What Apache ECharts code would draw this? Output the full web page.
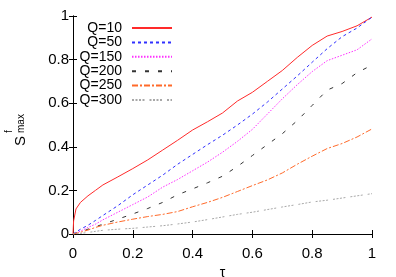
<!DOCTYPE html>
<html>
<head>
<meta charset="utf-8">
<script src="https://cdn.jsdelivr.net/npm/echarts@6/dist/echarts.min.js"></script>
<style>
html,body{margin:0;padding:0;background:#fff;}
#chart{width:396px;height:277px;}
</style>
</head>
<body>
<div id="chart"></div>
<script>
var tau = [0, 0.002, 0.01, 0.025, 0.05, 0.075, 0.1, 0.15, 0.2, 0.25, 0.3, 0.35, 0.4, 0.45, 0.5, 0.55, 0.6, 0.65, 0.7, 0.75, 0.8, 0.85, 0.9, 0.95, 1.0];
var q10  = [0, 0.06, 0.115, 0.145, 0.175, 0.20, 0.225, 0.262, 0.30, 0.34, 0.385, 0.43, 0.477, 0.515, 0.555, 0.61, 0.65, 0.70, 0.75, 0.81, 0.865, 0.908, 0.929, 0.955, 0.995];
var q50  = [0, 0.002, 0.009, 0.022, 0.04, 0.062, 0.085, 0.13, 0.18, 0.225, 0.27, 0.32, 0.365, 0.41, 0.453, 0.50, 0.55, 0.605, 0.665, 0.725, 0.788, 0.85, 0.905, 0.945, 0.995];
var q150 = [0, 0.001, 0.005, 0.013, 0.03, 0.045, 0.065, 0.10, 0.135, 0.17, 0.215, 0.25, 0.29, 0.33, 0.375, 0.425, 0.48, 0.55, 0.62, 0.685, 0.745, 0.795, 0.82, 0.845, 0.895];
var q200 = [0, 0.001, 0.004, 0.01, 0.022, 0.033, 0.045, 0.068, 0.092, 0.117, 0.145, 0.18, 0.207, 0.235, 0.265, 0.31, 0.36, 0.41, 0.46, 0.52, 0.59, 0.66, 0.69, 0.74, 0.775];
var q250 = [0, 0.0, 0.003, 0.008, 0.018, 0.03, 0.04, 0.055, 0.068, 0.08, 0.09, 0.103, 0.125, 0.145, 0.168, 0.195, 0.222, 0.248, 0.28, 0.32, 0.357, 0.392, 0.415, 0.445, 0.482];
var q300 = [0, 0.0, 0.001, 0.003, 0.007, 0.012, 0.017, 0.022, 0.026, 0.032, 0.038, 0.046, 0.055, 0.066, 0.078, 0.09, 0.10, 0.112, 0.124, 0.135, 0.147, 0.155, 0.165, 0.175, 0.185];
var seriesNames = ['Q=10', 'Q=50', 'Q=150', 'Q=200', 'Q=250', 'Q=300'];
var seriesValues = [q10, q50, q150, q200, q250, q300];

var styles = [
  {color: '#ff2a2a', type: 'solid'},
  {color: '#3030ff', type: [3, 3]},
  {color: '#ff30ff', type: [1.5, 1.5]},
  {color: '#333333', type: [4, 9]},
  {color: '#ff6a2a', type: [6, 2, 2, 2]},
  {color: '#a8a8a8', type: [2, 1.5, 2, 1.5, 2, 1.5, 2, 5]}
];

function pairs(v) { return tau.map(function (t, i) { return [t, v[i]]; }); }

var FONT = 'Liberation Sans';
var series = seriesNames.map(function (n, k) {
  return {
    name: n, type: 'line', data: pairs(seriesValues[k]),
    symbol: 'none', showSymbol: false, animation: false,
    lineStyle: {color: styles[k].color, width: 1, type: styles[k].type},
    itemStyle: {color: styles[k].color}
  };
});

var legends = seriesNames.map(function (n, k) {
  return {
    data: [n], orient: 'vertical', align: 'right',
    right: 223, top: 21 + k * 14.4, padding: 0,
    itemWidth: 40, itemHeight: 10,
    itemStyle: {opacity: 0},
    textStyle: {fontFamily: FONT, fontSize: 14, color: '#000', padding: [0, 5, 0, 0]}
  };
});

var baseAxis = {
  type: 'value', min: 0, max: 1, interval: 0.2,
  axisLine: {show: true, lineStyle: {color: '#000', width: 1}},
  axisTick: {show: true, inside: true, length: 4, lineStyle: {color: '#000'}},
  splitLine: {show: false}
};

var chart = echarts.init(document.getElementById('chart'), null, {renderer: 'canvas'});
chart.setOption({
  animation: false,
  grid: {left: 73, right: 24, top: 16, bottom: 43, containLabel: false, outerBoundsMode: 'none'},
  legend: legends,
  xAxis: [
    Object.assign({}, baseAxis, {
      position: 'bottom',
      axisLabel: {show: true, margin: 12, fontFamily: FONT, fontSize: 15, color: '#000'},
      name: 'τ', nameLocation: 'middle', nameGap: 30,
      nameTextStyle: {fontFamily: FONT, fontSize: 14, color: '#000'}
    }),
    Object.assign({}, baseAxis, {position: 'top', axisLabel: {show: false}})
  ],
  yAxis: [
    Object.assign({}, baseAxis, {
      position: 'left',
      axisLabel: {show: true, margin: 4, fontFamily: FONT, fontSize: 15, color: '#000'}
    }),
    Object.assign({}, baseAxis, {position: 'right', axisLabel: {show: false}})
  ],
  graphic: [{
    type: 'group', x: 0, y: 146, rotation: Math.PI / 2,
    children: [
      {type: 'text', x: 0, y: 21, style: {text: 'S', fontFamily: FONT, fontSize: 15, fill: '#000', verticalAlign: 'middle', align: 'left'}},
      {type: 'text', x: 13, y: 9, style: {text: 'f', fontFamily: FONT, fontSize: 10, fill: '#000', verticalAlign: 'middle', align: 'left'}},
      {type: 'text', x: 13, y: 21, style: {text: 'max', fontFamily: FONT, fontSize: 10, fill: '#000', verticalAlign: 'middle', align: 'left'}}
    ]
  }],
  series: series
});
</script>
</body>
</html>
